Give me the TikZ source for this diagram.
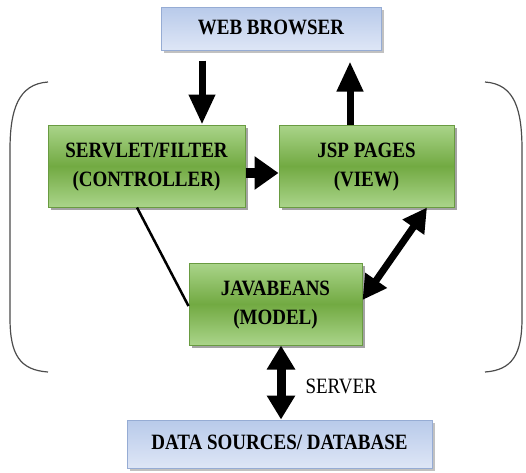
\documentclass[tikz,border=0pt]{standalone}
\usepackage{fontspec}
\setmainfont{Liberation Serif}
\usepackage{graphicx}
\usetikzlibrary{arrows.meta,shadows,calc}
\definecolor{glight}{RGB}{170,212,138}
\definecolor{gdark}{RGB}{114,170,66}
\definecolor{gborder}{RGB}{105,155,65}
\definecolor{blight}{RGB}{222,230,246}
\definecolor{bdark}{RGB}{184,202,234}
\definecolor{bborder}{RGB}{150,172,212}
\newcommand{\tallt}[1]{\scalebox{1}[1.15]{\begin{tabular}{@{}c@{}}#1\end{tabular}}}
\tikzset{
  lbl/.style={font=\fontsize{19}{25}\selectfont\bfseries, align=center, inner sep=0pt},
  gbox/.style={lbl, draw=gborder, line width=1pt, top color=glight, bottom color=glight, middle color=gdark,
    drop shadow={shadow xshift=3pt, shadow yshift=-3pt, fill=black!45, opacity=0.8}},
  bbox/.style={lbl, draw=bborder, line width=1pt, top color=bdark, bottom color=blight,
    drop shadow={shadow xshift=3pt, shadow yshift=-3pt, fill=black!35, opacity=0.7}},
  bigarrow/.style={line width=7pt, -{Triangle[width=25pt,length=30pt]}},
  dblarrow/.style={line width=7pt, {Triangle[width=25pt,length=24pt]}-{Triangle[width=25pt,length=24pt]}},
  bracket/.style={draw=black!70, line width=1.2pt}
}
\begin{document}
\begin{tikzpicture}[x=1pt,y=-1pt]
\useasboundingbox (0,0) rectangle (526,472);
% brackets
\draw[bracket] (48,82) .. controls (18,84) and (10,110) .. (10,150) -- (10,318)
  .. controls (10,355) and (20,370) .. (48,372);
\draw[bracket] (485,82) .. controls (515,84) and (522,110) .. (522,150) -- (522,318)
  .. controls (522,355) and (512,370) .. (485,372);
% nodes
\node[bbox, minimum width=220pt, minimum height=43pt] (web) at (271,28.5) {\tallt{WEB BROWSER}};
\node[gbox, minimum width=197pt, minimum height=82pt] (serv) at (146.5,166) {\tallt{SERVLET/FILTER\\(CONTROLLER)}};
\node[gbox, minimum width=175pt, minimum height=82pt] (jsp) at (366.5,166) {\tallt{JSP PAGES\\(VIEW)}};
\node[gbox, minimum width=173pt, minimum height=82pt] (jb) at (275.5,304) {\tallt{JAVABEANS\\(MODEL)}};
\node[bbox, minimum width=305pt, minimum height=48pt] (db) at (279.5,444) {\tallt{DATA SOURCES/ DATABASE}};
\node[font=\fontsize{19}{22}\selectfont, anchor=west] (srv) at (302,386) {\scalebox{1}[1.15]{SERVER}};
% connectors
\draw[bigarrow, shorten <=10pt] ([xshift=-69pt]web.south) -- ([xshift=55.5pt]serv.north);
\draw[bigarrow, shorten >=11pt] ([xshift=-16.5pt]jsp.north) -- ([xshift=79pt]web.south);
\draw[line width=10pt, -{Triangle[width=32pt,length=24pt]}] ([yshift=-7pt]serv.east) -- ([yshift=-7pt]jsp.west);
\draw[line width=2.5pt] ([xshift=-9.5pt]serv.south) -- ([yshift=-2pt]jb.west);
\draw[dblarrow] ([xshift=60.5pt]jsp.south) -- ([yshift=4pt]jb.east);
\coordinate (v) at ([xshift=5.5pt]jb.south);
\draw[line width=9pt, {Triangle[width=27pt,length=24pt]}-{Triangle[width=27pt,length=24pt]}] (v) -- (v |- db.north);
\end{tikzpicture}
\end{document}
